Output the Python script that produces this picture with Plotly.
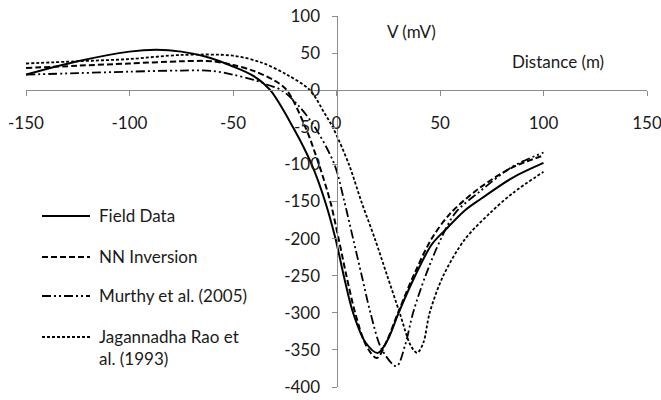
import plotly.graph_objects as go

# ---- data ----
field_x = [-150, -125, -100, -87, -75, -63, -50, -40, -32, -21, -12, -5.5, -0.5, 3.5, 8, 14, 20, 25, 30, 38, 46, 53, 62, 70, 85, 100]
field_y = [21, 39, 52, 54.5, 52, 45, 32, 19, 0, -50, -100, -150, -200, -250, -300, -340, -354, -335, -300, -250, -208, -187, -162, -146, -118, -98]

nn_x = [-150, -125, -100, -75, -60, -50, -40, -30, -24, -15, -8.5, -3, 1, 4.8, 9, 14.5, 19.5, 24, 30, 38, 46, 55, 69, 85, 100]
nn_y = [30, 33, 36, 39, 39, 34, 26, 13, 0, -50, -100, -150, -200, -250, -300, -345, -361, -340, -298, -245, -200, -166, -132, -104, -88]

murthy_x = [-150, -125, -100, -75, -60, -50, -40, -33, -26.5, -18, -10.4, -1, 3.8, 8, 12.2, 16.4, 22, 29, 33, 37, 43, 50.5, 57.5, 69, 85, 100]
murthy_y = [21, 23, 25, 26.5, 26, 21, 14, 7, 0, -22, -50, -100, -150, -200, -250, -300, -350, -372, -345, -300, -250, -200, -165, -137, -103, -84]

rao_x = [-150, -125, -100, -75, -50, -36, -24, -12.8, -6, -1.8, 6, 12, 18.5, 24.5, 30.5, 36, 39, 42, 45, 51.6, 62, 74, 85, 100]
rao_y = [36, 39, 42, 47.5, 46.5, 37, 21, 0, -30, -50, -100, -150, -200, -250, -300, -345, -354, -340, -300, -250, -201, -166, -139, -110]

series_names = ["Field Data", "NN Inversion", "Murthy et al. (2005)", "Jagannadha Rao et<br>al. (1993)"]
x_ticks = [-150, -100, -50, 0, 50, 100, 150]
y_ticks = [100, 50, 0, -50, -100, -150, -200, -250, -300, -350, -400]

FONT = "Lato"
FS = 17
TXT = "#1a1a1a"
dashes = ["solid", "6px,3px", "9px,3px,2px,3px,2px,3px", "3px,2px"]
widths = [2, 2, 1.8, 1.8]

W, H = 661, 400
ML, MR, MT, MB = 26, 14, 16, 13
PW, PH = W - ML - MR, H - MT - MB


def px2paper(px, py):
    return (px - ML) / PW, 1 - (py - MT) / PH


fig = go.Figure()
series = [(field_x, field_y), (nn_x, nn_y), (murthy_x, murthy_y), (rao_x, rao_y)]
for i, (xs, ys) in enumerate(series):
    fig.add_trace(go.Scatter(
        x=xs, y=ys, mode="lines", name=series_names[i], showlegend=False,
        line=dict(color="black", width=widths[i], dash=dashes[i], shape="spline", smoothing=0.9),
    ))

# manual legend (layout positions in pixels)
legend_rows = [216, 257, 296, 337]
shapes, annotations = [], []
for i, row in enumerate(legend_rows):
    x0, y0 = px2paper(42, row)
    x1, _ = px2paper(90, row)
    shapes.append(dict(type="line", xref="paper", yref="paper", x0=x0, x1=x1, y0=y0, y1=y0,
                       line=dict(color="black", width=widths[i], dash=dashes[i])))
    tx, ty = px2paper(97, row - 13)
    annotations.append(dict(x=tx, y=ty, xref="paper", yref="paper", text=series_names[i],
                            showarrow=False, xanchor="left", yanchor="top", align="left",
                            font=dict(family=FONT, size=FS, color=TXT)))

annotations += [
    dict(x=36, y=79, xref="x", yref="y", text="V (mV)", showarrow=False,
         font=dict(family=FONT, size=FS, color=TXT)),
    dict(x=107, y=39, xref="x", yref="y", text="Distance (m)", showarrow=False,
         font=dict(family=FONT, size=FS, color=TXT)),
]

fig.update_layout(
    width=W, height=H,
    margin=dict(l=ML, r=MR, t=MT, b=MB),
    paper_bgcolor="white", plot_bgcolor="white",
    font=dict(family=FONT, size=FS, color=TXT),
    showlegend=False,
    xaxis=dict(range=[-150, 150], tickvals=x_ticks, ticktext=[str(v) for v in x_ticks],
               showgrid=False, zeroline=False, automargin=False, ticklabeloverflow="allow",
               showline=True, linecolor="#8c8c8c", linewidth=1,
               ticks="outside", ticklen=5, tickcolor="#8c8c8c",
               anchor="free", position=0.8, ticklabelstandoff=12,
               tickfont=dict(family=FONT, size=FS, color=TXT)),
    yaxis=dict(range=[-400, 100], tickvals=y_ticks, ticktext=[str(v) for v in y_ticks],
               showgrid=False, zeroline=False, automargin=False, ticklabeloverflow="allow",
               showline=True, linecolor="#8c8c8c", linewidth=1,
               ticks="outside", ticklen=5, tickcolor="#8c8c8c",
               anchor="free", position=0.5, ticklabelstandoff=8,
               tickfont=dict(family=FONT, size=FS, color=TXT)),
    shapes=shapes,
    annotations=annotations,
)

fig.write_html("out.html", config={"displayModeBar": False, "staticPlot": True})

# remove the browser's default body margin so the figure fills the window exactly
with open("out.html", "r", encoding="utf-8") as f:
    html = f.read()
html = html.replace("<body>", '<body style="margin:0;padding:0;overflow:hidden">', 1)
with open("out.html", "w", encoding="utf-8") as f:
    f.write(html)
